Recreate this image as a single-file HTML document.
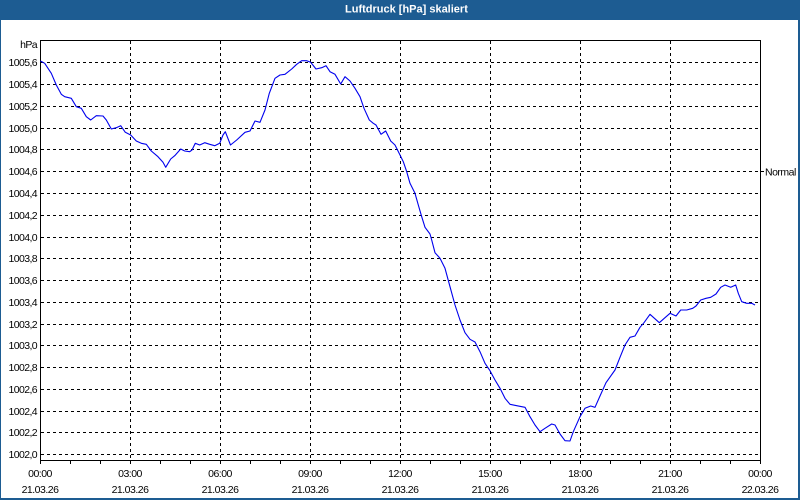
<!DOCTYPE html>
<html>
<head>
<meta charset="utf-8">
<style>
  html,body{margin:0;padding:0;background:#fff;}
  #wrap{position:relative;width:800px;height:500px;overflow:hidden;background:#fff;}
  svg{position:absolute;left:0;top:0;}
  text{font-family:"Liberation Sans","DejaVu Sans",sans-serif;}
</style>
</head>
<body>
<div id="wrap">
<svg width="800" height="500" viewBox="0 0 800 500" xmlns="http://www.w3.org/2000/svg">
  <!-- background + frame -->
  <rect x="0" y="0" width="800" height="500" fill="#1d5c92"/>
  <rect x="1" y="20" width="797" height="478" fill="#ffffff"/>
  <text x="345" y="12.5" font-size="11" font-weight="bold" fill="#ffffff">Luftdruck [hPa] skaliert</text>

  <!-- horizontal dashed grid -->
  <g stroke="#000" stroke-width="1" stroke-dasharray="3,3" shape-rendering="crispEdges">
    <line x1="41" y1="62.5" x2="760" y2="62.5"/>
    <line x1="41" y1="84.5" x2="760" y2="84.5"/>
    <line x1="41" y1="106.5" x2="760" y2="106.5"/>
    <line x1="41" y1="128.5" x2="760" y2="128.5"/>
    <line x1="41" y1="149.5" x2="760" y2="149.5"/>
    <line x1="41" y1="171.5" x2="760" y2="171.5"/>
    <line x1="41" y1="193.5" x2="760" y2="193.5"/>
    <line x1="41" y1="215.5" x2="760" y2="215.5"/>
    <line x1="41" y1="237.5" x2="760" y2="237.5"/>
    <line x1="41" y1="258.5" x2="760" y2="258.5"/>
    <line x1="41" y1="280.5" x2="760" y2="280.5"/>
    <line x1="41" y1="302.5" x2="760" y2="302.5"/>
    <line x1="41" y1="324.5" x2="760" y2="324.5"/>
    <line x1="41" y1="345.5" x2="760" y2="345.5"/>
    <line x1="41" y1="367.5" x2="760" y2="367.5"/>
    <line x1="41" y1="389.5" x2="760" y2="389.5"/>
    <line x1="41" y1="411.5" x2="760" y2="411.5"/>
    <line x1="41" y1="432.5" x2="760" y2="432.5"/>
    <line x1="41" y1="454.5" x2="760" y2="454.5"/>
  </g>
  <!-- vertical dashed grid -->
  <g stroke="#000" stroke-width="1" stroke-dasharray="3,3" shape-rendering="crispEdges">
    <line x1="130.5" y1="41" x2="130.5" y2="460"/>
    <line x1="220.5" y1="41" x2="220.5" y2="460"/>
    <line x1="310.5" y1="41" x2="310.5" y2="460"/>
    <line x1="400.5" y1="41" x2="400.5" y2="460"/>
    <line x1="490.5" y1="41" x2="490.5" y2="460"/>
    <line x1="580.5" y1="41" x2="580.5" y2="460"/>
    <line x1="670.5" y1="41" x2="670.5" y2="460"/>
  </g>

  <!-- plot frame -->
  <g stroke="#000" stroke-width="1" fill="none" shape-rendering="crispEdges">
    <rect x="40.5" y="40.5" width="720" height="420"/>
    <line x1="761" y1="171.5" x2="764" y2="171.5"/>
  </g>
  <!-- x ticks every hour -->
  <g stroke="#000" stroke-width="1" shape-rendering="crispEdges">
    <line x1="40.5" y1="460" x2="40.5" y2="464"/>
    <line x1="70.5" y1="460" x2="70.5" y2="464"/>
    <line x1="100.5" y1="460" x2="100.5" y2="464"/>
    <line x1="130.5" y1="460" x2="130.5" y2="464"/>
    <line x1="160.5" y1="460" x2="160.5" y2="464"/>
    <line x1="190.5" y1="460" x2="190.5" y2="464"/>
    <line x1="220.5" y1="460" x2="220.5" y2="464"/>
    <line x1="250.5" y1="460" x2="250.5" y2="464"/>
    <line x1="280.5" y1="460" x2="280.5" y2="464"/>
    <line x1="310.5" y1="460" x2="310.5" y2="464"/>
    <line x1="340.5" y1="460" x2="340.5" y2="464"/>
    <line x1="370.5" y1="460" x2="370.5" y2="464"/>
    <line x1="400.5" y1="460" x2="400.5" y2="464"/>
    <line x1="430.5" y1="460" x2="430.5" y2="464"/>
    <line x1="460.5" y1="460" x2="460.5" y2="464"/>
    <line x1="490.5" y1="460" x2="490.5" y2="464"/>
    <line x1="520.5" y1="460" x2="520.5" y2="464"/>
    <line x1="550.5" y1="460" x2="550.5" y2="464"/>
    <line x1="580.5" y1="460" x2="580.5" y2="464"/>
    <line x1="610.5" y1="460" x2="610.5" y2="464"/>
    <line x1="640.5" y1="460" x2="640.5" y2="464"/>
    <line x1="670.5" y1="460" x2="670.5" y2="464"/>
    <line x1="700.5" y1="460" x2="700.5" y2="464"/>
    <line x1="730.5" y1="460" x2="730.5" y2="464"/>
    <line x1="760.5" y1="460" x2="760.5" y2="464"/>
  </g>

  <!-- y labels -->
  <g font-size="10.5" fill="#000" text-anchor="end" letter-spacing="-0.6">
    <text x="37" y="48">hPa</text>
    <text x="37" y="66">1005,6</text>
    <text x="37" y="88">1005,4</text>
    <text x="37" y="110">1005,2</text>
    <text x="37" y="132">1005,0</text>
    <text x="37" y="153">1004,8</text>
    <text x="37" y="175">1004,6</text>
    <text x="37" y="197">1004,4</text>
    <text x="37" y="219">1004,2</text>
    <text x="37" y="241">1004,0</text>
    <text x="37" y="262">1003,8</text>
    <text x="37" y="284">1003,6</text>
    <text x="37" y="306">1003,4</text>
    <text x="37" y="328">1003,2</text>
    <text x="37" y="349">1003,0</text>
    <text x="37" y="371">1002,8</text>
    <text x="37" y="393">1002,6</text>
    <text x="37" y="415">1002,4</text>
    <text x="37" y="436">1002,2</text>
    <text x="37" y="458">1002,0</text>
  </g>
  <text x="765" y="175.5" font-size="10.5" fill="#000" letter-spacing="-0.5">Normal</text>

  <!-- x labels -->
  <g font-size="10.5" fill="#000" text-anchor="middle" letter-spacing="-0.5">
    <text x="40" y="477">00:00</text><text x="40" y="493">21.03.26</text>
    <text x="130" y="477">03:00</text><text x="130" y="493">21.03.26</text>
    <text x="220" y="477">06:00</text><text x="220" y="493">21.03.26</text>
    <text x="310" y="477">09:00</text><text x="310" y="493">21.03.26</text>
    <text x="400" y="477">12:00</text><text x="400" y="493">21.03.26</text>
    <text x="490" y="477">15:00</text><text x="490" y="493">21.03.26</text>
    <text x="580" y="477">18:00</text><text x="580" y="493">21.03.26</text>
    <text x="670" y="477">21:00</text><text x="670" y="493">21.03.26</text>
    <text x="760" y="477">00:00</text><text x="760" y="493">22.03.26</text>
  </g>

  <!-- data line -->
  <polyline fill="none" stroke="#0000ee" stroke-width="1.1" stroke-linejoin="round" points="
40.5,61 44.7,63.3 51.3,73.3 56.3,85 61.3,94.3 64.7,96.7 71.3,98.3 76.3,106.7 81.3,108.3 86.3,116.7
90.7,120 96.3,115.7 103,116 106.3,120 111.3,129 116.3,127.7 120.7,125.7 125.3,132.3 130.7,135 136.3,141
141.3,143.3 146.3,144.3 151.3,151 158,156.7 163,162.3 165.7,167.3 170.7,159 174.7,155.7 180.7,149 184.7,151
189.7,151.7 192,150 195.3,143.3 199.7,145 204.7,142.7 209.7,144.3 214.7,145.7 219.7,143.3 223,135 225.3,131.7
230.5,145 236.7,140 245,132.3 250,131 255,121 260,122.3 265,110 269.3,93.3 275,78.3 280,75
285,74.3 291.7,69 296.7,64.3 301.7,60.7 306.7,60.7 310.7,62.3 316,69 321.7,67.7 326,65.7 330,71.7
335,74.3 340.7,84 345,76.7 350,81 355,88.3 360,96.7 364,108.3 369.3,120 373.3,123.3 376,125
381,134.3 385.7,131 390.7,141 395,145 400,155 403.3,161.7 406.7,171.7 410,183.3 415,193.3 418.3,205
421.7,216.7 425,227.3 430,234 431.7,240 435,252.7 440,258.3 445,268.3 450,286.7 455,305 460,320
465,332.7 470,339.3 475,342 480,351.7 485,363.3 490,370.7 495,380 500,388.3 505,398.3 510,404.3
516.7,405.7 525,407.3 530,416.7 535,425 540,431.7 545,428.3 551.7,424 555,425 560,434 565,440.7
570,441 573.3,431.7 580,416.7 585,408.3 590.7,406 595,407.3 600,396 606,382.7 615,370 620,357.3
625,345 630,337.3 635,336 640,327.3 644,322.7 650,314.3 659.3,322.7 665,317.7 670,313.3 676,316
680.7,310 686.7,310 692.7,308.3 696,306 700.7,300 706,298.3 710.7,297.3 716,294 720.7,287.3 725,285
730.7,287.3 735.7,285 738.3,293.3 741.7,301.7 746.7,303.3 751.7,303.3 755,305"/>
</svg>
</div>
</body>
</html>
